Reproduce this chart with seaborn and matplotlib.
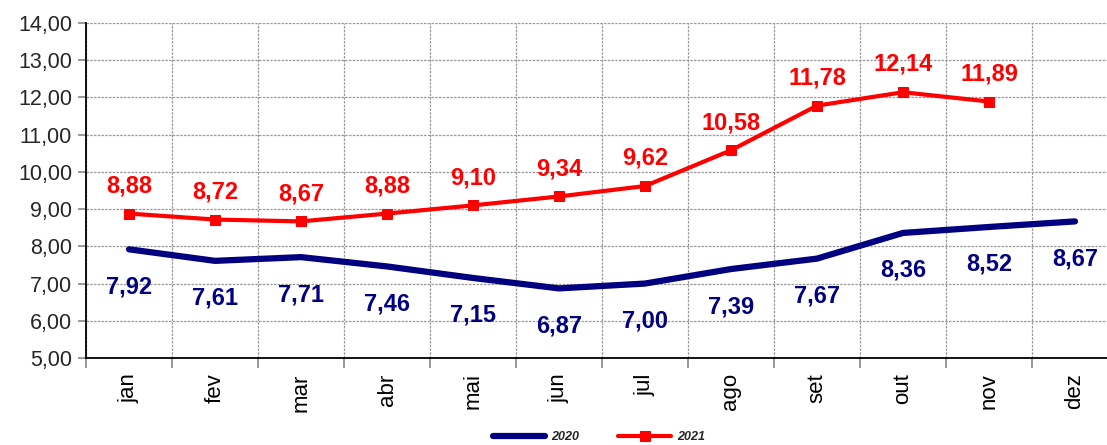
import matplotlib
matplotlib.use("Agg")
import matplotlib.pyplot as plt
import seaborn as sns
import pandas as pd
from matplotlib.ticker import FuncFormatter, FixedLocator

months = ["jan", "fev", "mar", "abr", "mai", "jun", "jul", "ago", "set", "out", "nov", "dez"]
v2020 = [7.92, 7.61, 7.71, 7.46, 7.15, 6.87, 7.00, 7.39, 7.67, 8.36, 8.52, 8.67]
v2021 = [8.88, 8.72, 8.67, 8.88, 9.10, 9.34, 9.62, 10.58, 11.78, 12.14, 11.89]
yticks = [5, 6, 7, 8, 9, 10, 11, 12, 13, 14]

sns.set_theme(style="white")
plt.rcParams['font.family'] = ['Liberation Sans', 'DejaVu Sans']

df20 = pd.DataFrame({"mes": months, "valor": v2020})
df21 = pd.DataFrame({"mes": months[:len(v2021)], "valor": v2021})

fig = plt.figure(figsize=(11.07, 4.45), dpi=100)
ax = fig.add_axes([86/1107, 1-358/445, 1032/1107, (358-23)/445])

sns.lineplot(data=df20, x="mes", y="valor", ax=ax, color="#000080", linewidth=4.5,
             label="2020", sort=False, solid_capstyle="round")
sns.lineplot(data=df21, x="mes", y="valor", ax=ax, color="#ff0000", linewidth=3,
             marker="s", markersize=7.5, markeredgecolor="#ff0000", label="2021", sort=False)

fmt = lambda v: f"{v:.2f}".replace(".", ",")
for i, v in enumerate(v2020):
    ax.annotate(fmt(v), (i, v), xytext=(0, -27), textcoords="offset points",
                ha="center", va="center", color="#000080", fontsize=17, fontweight="bold")
for i, v in enumerate(v2021):
    ax.annotate(fmt(v), (i, v), xytext=(0, 20), textcoords="offset points",
                ha="center", va="center", color="#ff0000", fontsize=17, fontweight="bold")

ax.set_xlim(-0.5, 11.5)
ax.set_ylim(5, 14)
ax.set_yticks(yticks)
ax.yaxis.set_major_formatter(FuncFormatter(lambda v, p: fmt(v)))
ax.set_xticks(range(len(months)))
ax.set_xticklabels(months, rotation=90)
ax.xaxis.set_minor_locator(FixedLocator([i + 0.5 for i in range(-1, 12)]))
ax.tick_params(axis="x", which="major", length=0, labelsize=16, pad=11, colors="black")
ax.tick_params(axis="x", which="minor", length=7, color="#888888", width=1.2, direction="out", bottom=True)
ax.tick_params(axis="y", length=6, color="#888888", width=1.2, direction="out", left=True, labelsize=15.5, pad=4)

ax.grid(False)
ax.grid(True, which="minor", axis="x", linestyle=(0, (2, 1)), color="#999999", linewidth=0.9)
ax.grid(True, which="major", axis="y", linestyle=(0, (2, 1)), color="#999999", linewidth=0.9)
for s in ["top", "right"]:
    ax.spines[s].set_visible(False)
for s in ["left", "bottom"]:
    ax.spines[s].set_color("black")
    ax.spines[s].set_linewidth(1.3)
ax.set_xlabel("")
ax.set_ylabel("")

leg = ax.legend(loc="center", bbox_to_anchor=(599/1107, 1-437/445), bbox_transform=fig.transFigure,
                ncol=2, frameon=False, prop={"size": 9, "weight": "bold", "style": "italic"},
                handlelength=4.2, columnspacing=3.1, handletextpad=0.5)

fig.savefig("out.png", dpi=100)
